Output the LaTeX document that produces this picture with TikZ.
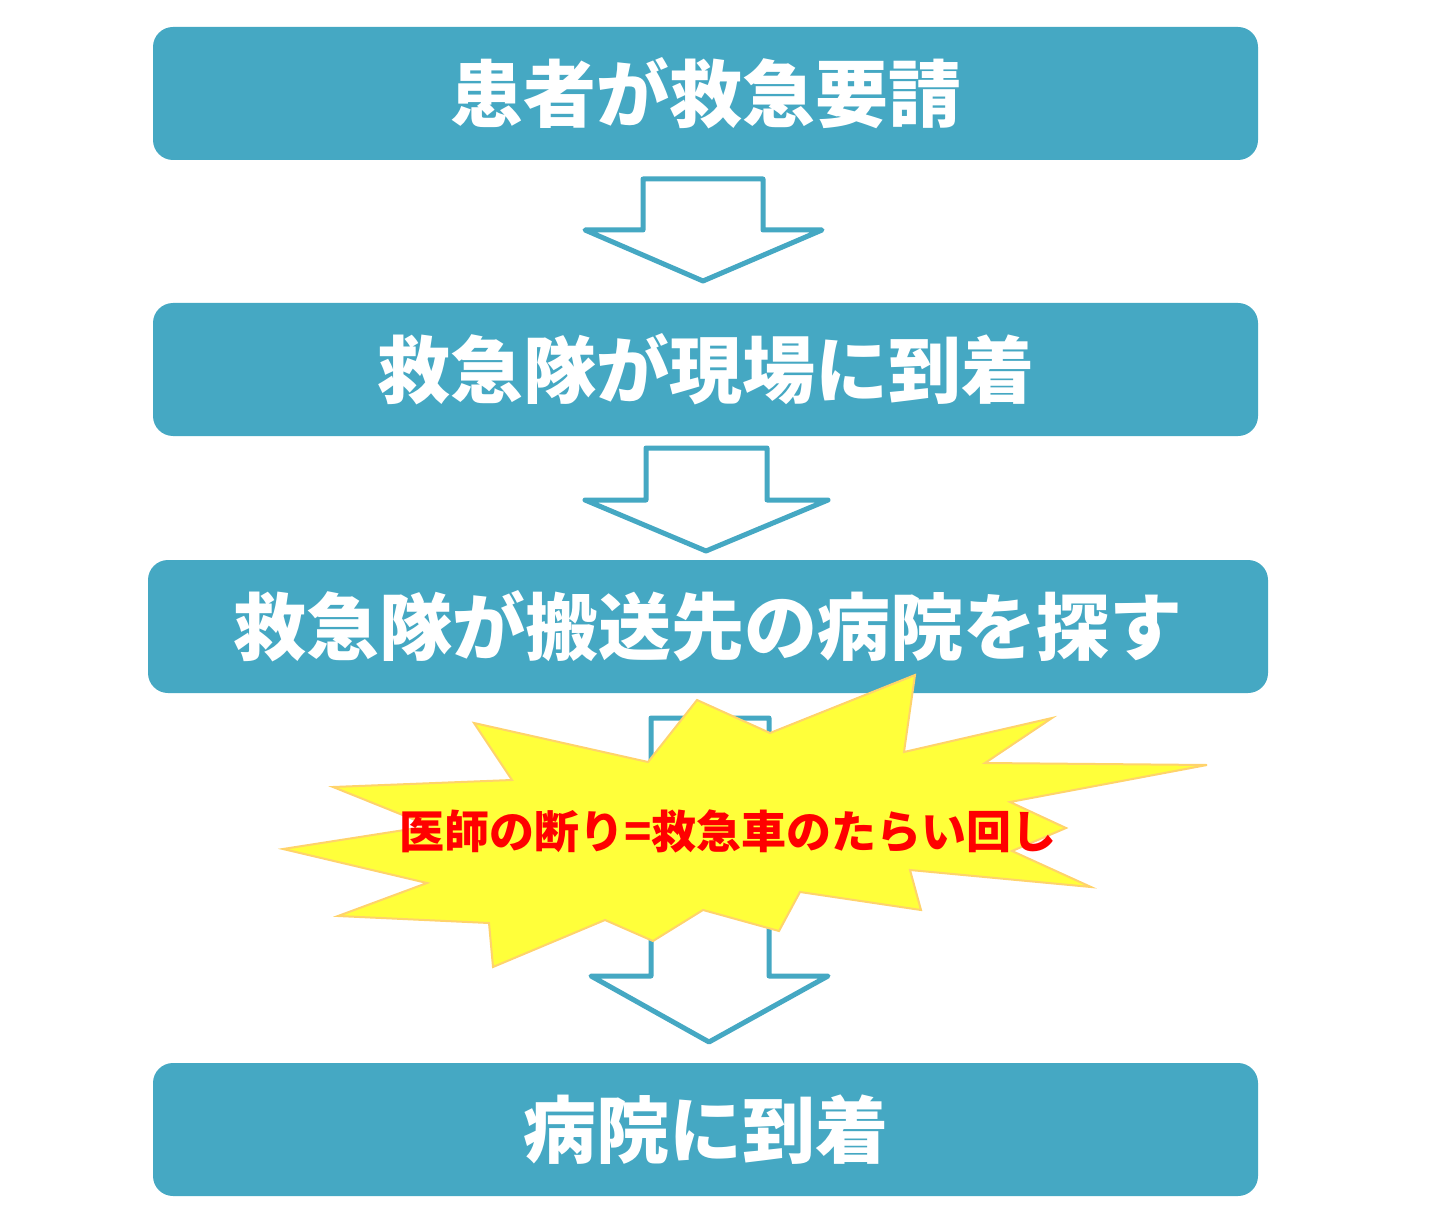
\documentclass[tikz,border=0pt]{standalone}
\usepackage{fontspec}
\newfontfamily\jp{Noto Sans CJK JP}
\definecolor{teal1}{HTML}{45A8C3}
\definecolor{burstfill}{HTML}{FFFF3A}
\definecolor{burstline}{HTML}{FFD36B}
\begin{document}
\begin{tikzpicture}[x=1pt,y=-1pt,
  box/.style={fill=teal1,rounded corners=20pt,inner sep=0pt,text=white,
    font=\jp\bfseries\fontsize{73}{80}\selectfont},
  blockarrow/.style={draw=teal1,line width=5pt,line join=round,fill=white}]
\useasboundingbox (0,0) rectangle (1440,1230);
\fill[white] (0,0) rectangle (1440,1230);
% boxes
\node[box,minimum width=1105pt,minimum height=133pt] (b1) at (705.5,93.5) {患者が救急要請};
\node[box,minimum width=1105pt,minimum height=133pt] (b2) at (705.5,369.5) {救急隊が現場に到着};
\node[box,minimum width=1120pt,minimum height=133pt] (b3) at (708,626.5) {救急隊が搬送先の病院を探す};
\node[box,minimum width=1105pt,minimum height=133pt] (b4) at (705.5,1129.5) {病院に到着};
% block arrows
\draw[blockarrow] (643,179) -- (763,179) -- (763,230) -- (822,230) -- (703,281) -- (585,230) -- (643,230) -- cycle;
\draw[blockarrow] (646,448) -- (767,448) -- (767,500) -- (828,500) -- (706,551) -- (585,500) -- (646,500) -- cycle;
\draw[blockarrow] (651,718) -- (769,718) -- (769,976) -- (828,976) -- (709,1042) -- (591,976) -- (651,976) -- cycle;
% burst
\draw[fill=burstfill,draw=burstline,line width=2pt,line join=miter]
  (915,675) -- (904,752) -- (1052,718) -- (985,763) -- (1207,765) -- (1010,802)
  -- (1066,828) -- (1012,851) -- (1091,887) -- (910,870) -- (921,910)
  -- (800,892) -- (779,931) -- (703,910) -- (653,941) -- (605,920)
  -- (493,967) -- (489,923) -- (338,916) -- (427,883) -- (283,849)
  -- (430,826) -- (333,787) -- (512,780) -- (474,723) -- (648,762)
  -- (697,700) -- (770,733) -- cycle;
\node[text=red,font=\jp\bfseries\fontsize{45}{50}\selectfont,inner sep=0pt] (lbl) at (728,831) {医師の断り=救急車のたらい回し};
\end{tikzpicture}
\end{document}
